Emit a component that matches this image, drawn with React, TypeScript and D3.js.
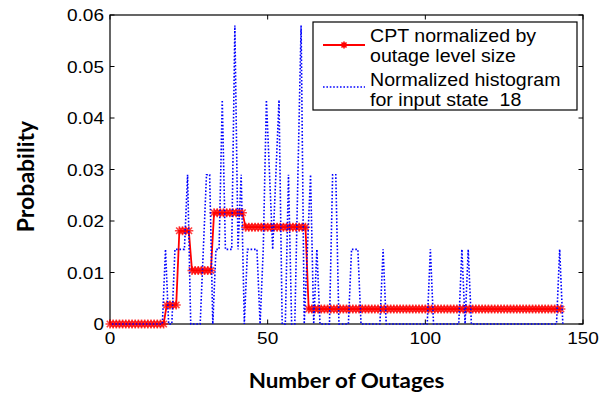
import React, { useEffect, useRef } from 'react';
import * as d3 from 'd3';

const xTicks = [0, 50, 100, 150];
const yTicks = [0, 0.01, 0.02, 0.03, 0.04, 0.05, 0.06];
const yTickLabels = ['0', '0.01', '0.02', '0.03', '0.04', '0.05', '0.06'];

// CPT normalized by outage level size, one value per outage count 0..143
const cptValues = [
  0, 0, 0, 0, 0, 0, 0, 0, 0, 0, 0, 0, 0, 0, 0, 0, 0, 0,
  0.0037, 0.0037, 0.0037, 0.0037,
  0.0181, 0.0181, 0.0181, 0.0181,
  0.0104, 0.0104, 0.0104, 0.0104, 0.0104, 0.0104, 0.0104,
  0.0216, 0.0216, 0.0216, 0.0216, 0.0216, 0.0216, 0.0216, 0.0216, 0.0216, 0.0216,
  0.0188, 0.0188, 0.0188, 0.0188, 0.0188, 0.0188, 0.0188, 0.0188, 0.0188, 0.0188,
  0.0188, 0.0188, 0.0188, 0.0188, 0.0188, 0.0188, 0.0188, 0.0188, 0.0188, 0.0188,
  0.0029, 0.0029, 0.0029, 0.0029, 0.0029, 0.0029, 0.0029, 0.0029, 0.0029, 0.0029,
  0.0029, 0.0029, 0.0029, 0.0029, 0.0029, 0.0029, 0.0029, 0.0029, 0.0029, 0.0029,
  0.0029, 0.0029, 0.0029, 0.0029, 0.0029, 0.0029, 0.0029, 0.0029, 0.0029, 0.0029,
  0.0029, 0.0029, 0.0029, 0.0029, 0.0029, 0.0029, 0.0029, 0.0029, 0.0029, 0.0029,
  0.0029, 0.0029, 0.0029, 0.0029, 0.0029, 0.0029, 0.0029, 0.0029, 0.0029, 0.0029,
  0.0029, 0.0029, 0.0029, 0.0029, 0.0029, 0.0029, 0.0029, 0.0029, 0.0029, 0.0029,
  0.0029, 0.0029, 0.0029, 0.0029, 0.0029, 0.0029, 0.0029, 0.0029, 0.0029, 0.0029,
  0.0029, 0.0029, 0.0029, 0.0029, 0.0029, 0.0029, 0.0029, 0.0029, 0.0029, 0.0029,
  0.0029,
];

// histogram counts for input state 18, bins 0..143
const histCounts = [
  0, 0, 0, 0, 0, 0, 0, 0, 0, 0, 0, 0, 0, 0, 0, 0, 0, 1, 0, 0, 1, 1, 1, 1,
  2, 0, 0, 0, 0, 1, 2, 2, 0, 1, 1, 3, 1, 1, 1, 4, 1, 2, 0, 1, 1, 1, 1, 0,
  1, 3, 2, 1, 2, 3, 0, 0, 2, 0, 0, 2, 4, 0, 1, 2, 0, 1, 0, 0, 0, 0, 2, 2,
  0, 0, 0, 0, 1, 1, 1, 0, 0, 0, 0, 0, 0, 0, 1, 0, 0, 0, 0, 0, 0, 0, 0, 0,
  0, 0, 0, 0, 0, 1, 0, 0, 0, 0, 0, 0, 0, 0, 0, 1, 0, 1, 0, 0, 0, 0, 0, 0,
  0, 0, 0, 0, 0, 0, 0, 0, 0, 0, 0, 0, 0, 0, 0, 0, 0, 0, 0, 0, 0, 0, 1, 0,
];
const histTotal = 69;
const histBinOffset = 0.6;

const legendLabels = [
  ['CPT normalized by', 'outage level size'],
  ['Normalized histogram', 'for input state  18'],
];

const STRETCH = 1.12;
const tickFont = '"Liberation Sans", Arial, sans-serif';
const titleFont = 'Lato, "Open Sans", sans-serif';

const starPath = (r: number) => {
  const d = r * 0.72;
  return `M${-r},0H${r}M0,${-r}V${r}M${-d},${-d}L${d},${d}M${-d},${d}L${d},${-d}`;
};

export default function App() {
  const ref = useRef<SVGSVGElement>(null);

  useEffect(() => {
    const svg = d3.select(ref.current);
    svg.selectAll('*').remove();

    const left = 110, right = 583, top = 15, bottom = 324;
    const x = d3.scaleLinear().domain([0, 150]).range([left, right]);
    const y = d3.scaleLinear().domain([0, 0.06]).range([bottom, top]);

    svg.append('rect').attr('width', 609).attr('height', 393).attr('fill', '#fff');

    const label = (g: any, tx: number, ty: number, text: string, anchor: string, size: number) =>
      g.append('text')
        .attr('transform', `translate(${tx},${ty}) scale(${STRETCH},1)`)
        .attr('text-anchor', anchor)
        .attr('font-family', tickFont)
        .attr('font-size', size)
        .attr('fill', '#000')
        .style('white-space', 'pre')
        .text(text);

    // axes box and inward ticks
    const axes = svg.append('g');
    axes.append('rect')
      .attr('x', left).attr('y', top)
      .attr('width', right - left).attr('height', bottom - top)
      .attr('fill', 'none').attr('stroke', '#000').attr('stroke-width', 1.2);

    const tl = 4.5;
    xTicks.forEach(t => {
      axes.append('line').attr('x1', x(t)).attr('x2', x(t)).attr('y1', bottom).attr('y2', bottom - tl)
        .attr('stroke', '#000');
      axes.append('line').attr('x1', x(t)).attr('x2', x(t)).attr('y1', top).attr('y2', top + tl)
        .attr('stroke', '#000');
      label(axes, x(t), bottom + 20, String(t), 'middle', 17);
    });
    yTicks.forEach((t, i) => {
      axes.append('line').attr('x1', left).attr('x2', left + tl).attr('y1', y(t)).attr('y2', y(t))
        .attr('stroke', '#000');
      axes.append('line').attr('x1', right).attr('x2', right - tl).attr('y1', y(t)).attr('y2', y(t))
        .attr('stroke', '#000');
      label(axes, left - 6, y(t) + 6, yTickLabels[i], 'end', 17);
    });

    // CPT line with star markers
    const cptLine = d3.line<number>().x((_, i) => x(i)).y(d => y(d));
    svg.append('path')
      .datum(cptValues)
      .attr('d', cptLine)
      .attr('fill', 'none')
      .attr('stroke', '#ff0000')
      .attr('stroke-width', 1.8);
    svg.append('g')
      .selectAll('path')
      .data(cptValues)
      .enter().append('path')
      .attr('transform', (d, i) => `translate(${x(i)},${y(d)})`)
      .attr('d', starPath(4.5))
      .attr('fill', 'none')
      .attr('stroke', '#ff0000')
      .attr('stroke-opacity', 0.75)
      .attr('stroke-width', 1.6);

    // normalized histogram, dotted
    const histLine = d3.line<number>()
      .x((_, i) => x(i + histBinOffset))
      .y(d => y(d / histTotal));
    svg.append('path')
      .datum(histCounts)
      .attr('d', histLine)
      .attr('fill', 'none')
      .attr('stroke', '#0000ff')
      .attr('stroke-width', 1.6)
      .attr('stroke-dasharray', '1.6,1.8');

    // legend
    const lg = svg.append('g');
    lg.append('rect')
      .attr('x', 313).attr('y', 22).attr('width', 264).attr('height', 88)
      .attr('fill', '#fff').attr('stroke', '#000').attr('stroke-width', 1.2);
    lg.append('line').attr('x1', 323).attr('x2', 365).attr('y1', 45).attr('y2', 45)
      .attr('stroke', '#ff0000').attr('stroke-width', 1.8);
    lg.append('path').attr('transform', 'translate(344,45)').attr('d', starPath(3.5))
      .attr('fill', 'none').attr('stroke', '#ff0000').attr('stroke-width', 1.6);
    lg.append('line').attr('x1', 323).attr('x2', 365).attr('y1', 87).attr('y2', 87)
      .attr('stroke', '#0000ff').attr('stroke-width', 1.6).attr('stroke-dasharray', '1.6,1.8');
    const baselines = [[41.5, 61.5], [85.5, 105.5]];
    legendLabels.forEach((lines, i) => {
      lines.forEach((t, j) => {
        label(lg, 370, baselines[i][j], t, 'start', 17.5);
      });
    });

    // axis titles
    svg.append('text')
      .attr('transform', `translate(${(left + right) / 2},388) scale(${STRETCH},1)`)
      .attr('text-anchor', 'middle')
      .attr('font-family', titleFont)
      .attr('font-weight', 'bold')
      .attr('font-size', 20)
      .text('Number of Outages');
    svg.append('text')
      .attr('transform', `translate(34,${(top + bottom) / 2 + 7}) rotate(-90)`)
      .attr('text-anchor', 'middle')
      .attr('font-family', titleFont)
      .attr('font-weight', 'bold')
      .attr('font-size', 23)
      .text('Probability');
  }, []);

  return (
    <svg
      ref={ref}
      width={609}
      height={393}
      style={{ position: 'absolute', left: 0, top: 0, display: 'block' }}
    />
  );
}
